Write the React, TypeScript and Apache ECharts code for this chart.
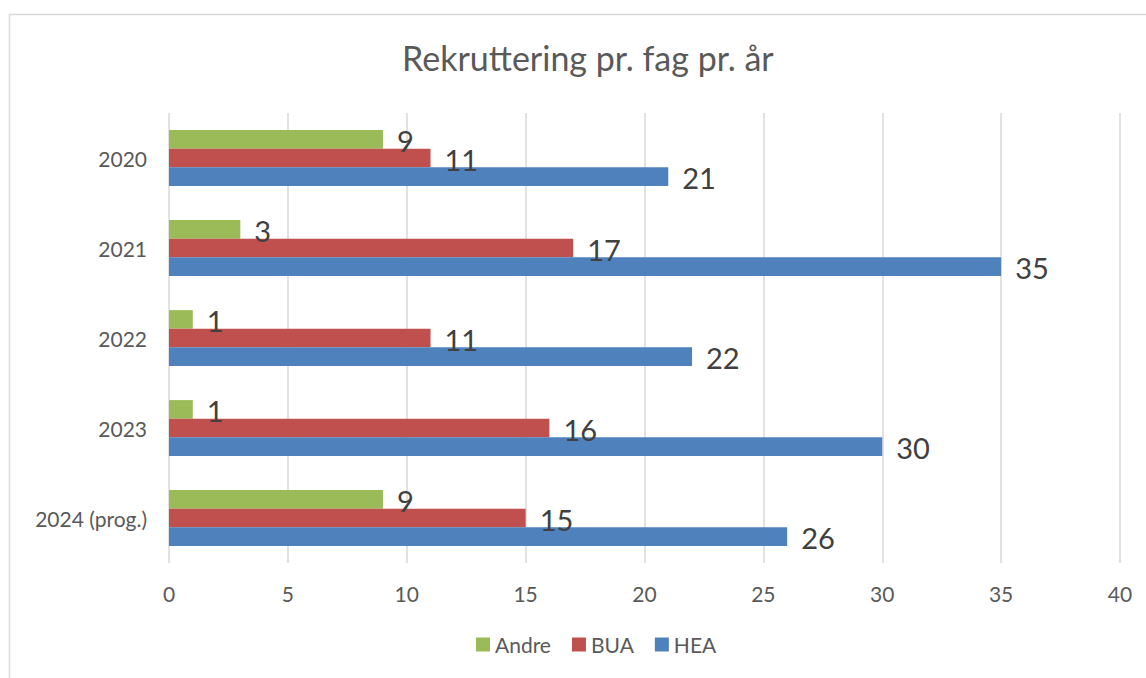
import React, { useEffect, useRef } from "react";
import * as echarts from "echarts";

const categories = ["2020", "2021", "2022", "2023", "2024 (prog.)"];
const andre = [9, 3, 1, 1, 9];
const bua = [11, 17, 11, 16, 15];
const hea = [21, 35, 22, 30, 26];
const xTicks = { min: 0, max: 40, interval: 5 };

const FONT = "Lato";

export default function App() {
  const ref = useRef<HTMLDivElement>(null);
  useEffect(() => {
    const chart = echarts.init(ref.current!, null, { renderer: "svg" });
    const label = {
      show: true,
      position: "right" as const,
      distance: 14,
      offset: [0, 1],
      fontSize: 29,
      color: "#404040",
      fontFamily: FONT,
    };
    const mk = (name: string, data: number[], color: string) => ({
      name,
      type: "bar",
      data,
      barCategoryGap: "38%",
      barGap: "0%",
      itemStyle: { color },
      label,
    });
    chart.setOption({
      animation: false,
      backgroundColor: "#ffffff",
      textStyle: { fontFamily: FONT },
      title: {
        text: "Rekruttering pr. fag pr. år",
        left: 397,
        top: 35,
        textStyle: { fontSize: 34, fontWeight: "normal", color: "#595959", fontFamily: FONT },
      },
      legend: {
        bottom: 18,
        left: 471,
        itemWidth: 14,
        itemHeight: 14,
        itemGap: 21,
        icon: "rect",
        textStyle: { fontSize: 21, color: "#595959", fontFamily: FONT },
        data: ["Andre", "BUA", "HEA"],
      },
      grid: { left: 169, right: 26, top: 113, bottom: 115, containLabel: false },
      xAxis: {
        type: "value",
        min: xTicks.min,
        max: xTicks.max,
        interval: xTicks.interval,
        axisLine: { show: false },
        axisTick: { show: false },
        axisLabel: { fontSize: 21, color: "#595959", margin: 20, fontFamily: FONT },
        splitLine: { show: true, lineStyle: { color: "#d9d9d9", width: 1.5 } },
      },
      yAxis: {
        type: "category",
        data: categories,
        inverse: true,
        axisLine: { show: false },
        axisTick: { show: false },
        axisLabel: { fontSize: 21, color: "#595959", margin: 22, fontFamily: FONT },
      },
      graphic: [
        {
          type: "rect",
          shape: { x: 9.5, y: 14.5, width: 1150, height: 700 },
          style: { fill: "none", stroke: "#d9d9d9", lineWidth: 1.5 },
          silent: true,
        },
      ],
      series: [
        mk("Andre", andre, "#9bbb59"),
        mk("BUA", bua, "#c0504d"),
        mk("HEA", hea, "#4f81bd"),
      ],
    });
    return () => chart.dispose();
  }, []);
  return (
    <div
      ref={ref}
      style={{ position: "fixed", left: 0, top: 0, width: 1146, height: 678 }}
    />
  );
}
